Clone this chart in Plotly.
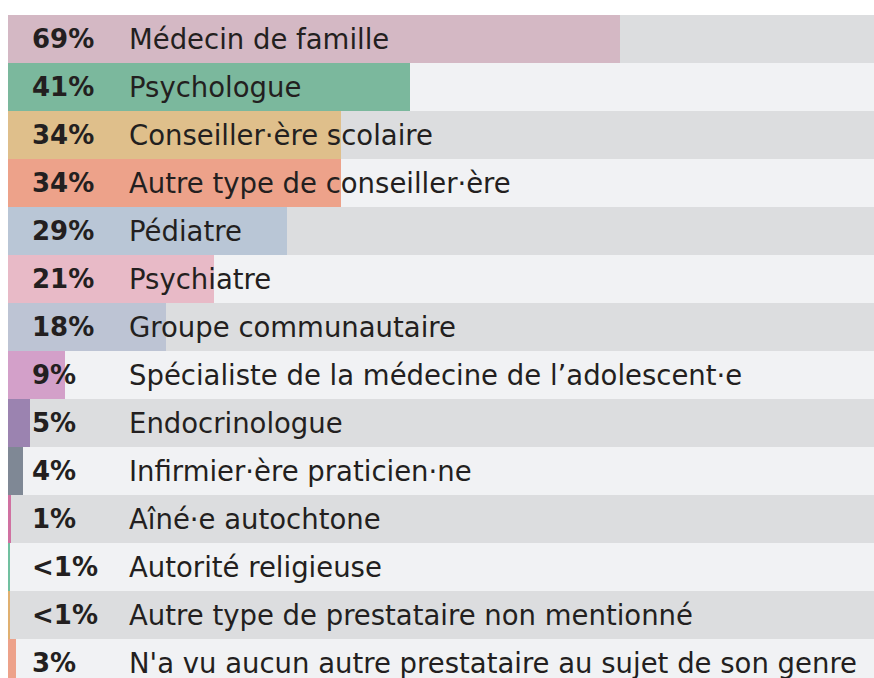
import plotly.graph_objects as go

categories = [
    "Médecin de famille",
    "Psychologue",
    "Conseiller·ère scolaire",
    "Autre type de conseiller·ère",
    "Pédiatre",
    "Psychiatre",
    "Groupe communautaire",
    "Spécialiste de la médecine de l’adolescent·e",
    "Endocrinologue",
    "Infirmier·ère praticien·ne",
    "Aîné·e autochtone",
    "Autorité religieuse",
    "Autre type de prestataire non mentionné",
    "N'a vu aucun autre prestataire au sujet de son genre",
]
pct_labels = ["69%", "41%", "34%", "34%", "29%", "21%", "18%", "9%", "5%", "4%", "1%", "<1%", "<1%", "3%"]
# bar lengths as drawn in the picture (percent-axis units)
bar_values = [62.5, 41.0, 34.0, 34.0, 28.5, 21.0, 16.1, 5.8, 2.2, 1.5, 0.3, 0.2, 0.2, 0.8]
bar_colors = ["#d4b8c4", "#7bb89d", "#dfbf8b", "#eda28a", "#b9c6d6", "#e8bac7", "#bdc4d4",
              "#d3a0c9", "#9b83b0", "#7f8895", "#d071a1", "#71c0a0", "#e0b070", "#eda28a"]
row_colors = ["#dcdddf" if i % 2 == 0 else "#f1f2f4" for i in range(len(categories))]

XMAX = 88.4
FONT = "DejaVu Sans"
TXT = "#231f20"

fig = go.Figure()
fig.add_trace(go.Bar(
    y=categories, x=[XMAX] * len(categories), orientation="h",
    marker=dict(color=row_colors, line=dict(width=0)), hoverinfo="skip", showlegend=False,
))
fig.add_trace(go.Bar(
    y=categories, x=bar_values, orientation="h",
    marker=dict(color=bar_colors, line=dict(width=0)), showlegend=False,
))

for cat, p in zip(categories, pct_labels):
    fig.add_annotation(x=0, y=cat, xref="x", yref="y", text=f"<b>{p}</b>", showarrow=False,
                       xanchor="left", xshift=22,
                       font=dict(family=FONT, size=26, color=TXT))
    fig.add_annotation(x=0, y=cat, xref="x", yref="y", text=cat, showarrow=False,
                       xanchor="left", xshift=119,
                       font=dict(family=FONT, size=27.5, color=TXT))

fig.update_layout(
    width=874, height=678,
    margin=dict(l=8, r=0, t=15, b=0),
    paper_bgcolor="white", plot_bgcolor="white",
    barmode="overlay", bargap=0,
    xaxis=dict(range=[0, XMAX], visible=False, fixedrange=True),
    yaxis=dict(type="category", categoryorder="array", categoryarray=categories,
               range=[-0.5 + 663 / 48, -0.5], visible=False, fixedrange=True),
)
fig.write_html("out.html")
